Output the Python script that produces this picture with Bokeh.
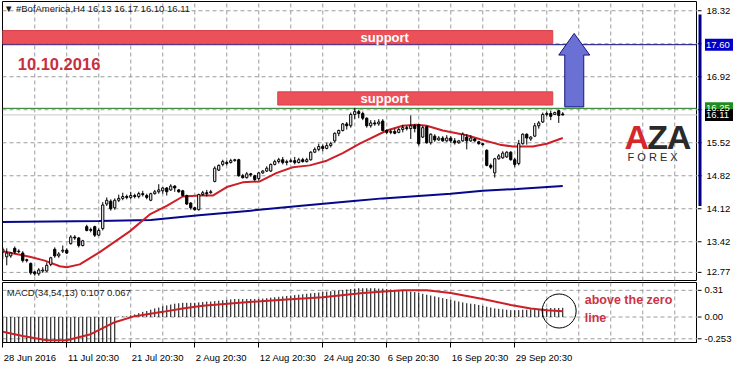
from bokeh.plotting import figure
from bokeh.layouts import column, row
from bokeh.models import Range1d, FixedTicker, Label
from bokeh.embed import file_html
from bokeh.resources import INLINE
from bokeh.core.properties import value

FONT = "Liberation Sans"

# ---------------- data ----------------
opens = [13.20,13.10,13.12,13.28,13.22,13.18,13.02,12.96,12.78,12.74,12.80,12.80,12.94,13.26,13.12,13.22,13.24,13.38,13.52,13.50,
         13.34,13.74,13.66,13.74,13.56,13.70,14.22,14.28,14.14,14.30,14.34,14.38,14.36,14.40,14.38,14.44,14.40,14.30,14.44,14.48,
         14.50,14.56,14.52,14.60,14.52,14.50,14.40,14.24,14.14,14.10,14.42,14.46,14.46,14.70,14.94,15.06,15.10,15.10,15.14,15.16,
         14.82,14.78,14.86,14.82,14.76,14.88,14.92,14.92,15.06,15.12,15.16,15.10,15.12,15.14,15.10,15.16,15.12,15.16,15.32,15.38,
         15.44,15.40,15.46,15.56,15.72,15.78,15.92,15.88,16.12,16.18,16.14,16.04,15.88,15.94,15.92,15.98,15.78,15.74,15.76,15.74,
         15.80,15.84,15.82,15.88,15.90,15.64,15.86,15.52,15.66,15.58,15.62,15.56,15.62,15.56,15.52,15.56,15.64,15.56,15.60,15.54,
         15.50,15.36,15.04,14.88,15.18,15.20,15.22,15.32,15.16,15.08,15.50,15.70,15.60,15.66,15.88,15.96,16.12,16.14,16.12,16.20,
         16.13]
highs = [13.30,13.28,13.20,13.32,13.26,13.22,13.06,12.98,12.80,12.86,12.88,12.98,13.10,13.30,13.20,13.34,13.28,13.56,13.56,13.52,
         13.46,13.78,13.72,13.76,13.70,14.26,14.36,14.32,14.34,14.42,14.46,14.42,14.48,14.44,14.48,14.50,14.44,14.46,14.52,14.64,
         14.58,14.58,14.64,14.62,14.54,14.52,14.42,14.26,14.16,14.44,14.50,14.52,14.52,15.02,15.06,15.16,15.14,15.18,15.18,15.18,
         14.86,14.90,14.88,14.84,14.90,14.94,15.02,15.08,15.16,15.20,15.22,15.16,15.18,15.22,15.20,15.20,15.20,15.34,15.42,15.50,
         15.48,15.52,15.54,15.74,15.80,15.94,15.96,16.16,16.26,16.22,16.18,16.06,16.00,16.00,16.02,16.02,15.80,15.80,15.82,15.84,
         15.90,15.88,16.10,15.92,15.92,15.88,15.88,15.72,15.70,15.66,15.66,15.68,15.66,15.62,15.58,15.74,15.70,15.68,15.62,15.56,
         15.52,15.38,15.08,15.20,15.28,15.34,15.34,15.34,15.20,15.58,15.72,15.72,15.66,15.94,15.98,16.16,16.18,16.20,16.18,16.22,
         16.17]
lows = [13.05,12.92,13.08,13.16,13.18,12.98,12.98,12.72,12.70,12.70,12.76,12.78,12.90,13.08,13.08,13.18,13.16,13.36,13.46,13.30,
        13.32,13.64,13.62,13.52,13.54,13.66,14.18,14.08,14.10,14.26,14.30,14.32,14.32,14.34,14.34,14.38,14.32,14.28,14.42,14.44,
        14.44,14.40,14.50,14.48,14.46,14.38,14.20,14.10,14.08,14.08,14.40,14.38,14.44,14.68,14.92,15.02,15.04,15.08,15.12,14.80,
        14.76,14.76,14.80,14.70,14.72,14.86,14.90,14.90,15.04,15.08,15.06,15.04,15.10,15.06,15.08,15.10,15.10,15.14,15.30,15.34,
        15.34,15.38,15.42,15.52,15.66,15.76,15.80,15.84,16.02,16.04,16.00,15.84,15.84,15.88,15.88,15.76,15.70,15.70,15.70,15.72,
        15.74,15.78,15.60,15.74,15.46,15.62,15.50,15.48,15.54,15.56,15.54,15.54,15.52,15.48,15.50,15.54,15.38,15.54,15.54,15.48,
        15.46,15.02,14.96,14.78,15.16,15.18,15.20,15.14,15.00,15.04,15.48,15.48,15.56,15.64,15.82,15.94,16.08,16.00,16.12,15.94,
        16.10]
closes = [13.26,13.18,13.18,13.20,13.21,13.02,13.04,12.76,12.74,12.82,12.82,12.92,13.08,13.12,13.16,13.24,13.18,13.52,13.50,13.34,
          13.44,13.66,13.68,13.56,13.66,14.20,14.30,14.12,14.30,14.34,14.38,14.36,14.40,14.38,14.44,14.42,14.36,14.44,14.48,14.52,
          14.56,14.48,14.60,14.56,14.48,14.40,14.22,14.14,14.10,14.42,14.46,14.44,14.48,14.98,15.04,15.12,15.08,15.14,15.16,14.82,
          14.78,14.86,14.84,14.74,14.88,14.92,14.98,15.06,15.12,15.16,15.10,15.12,15.14,15.10,15.16,15.12,15.16,15.32,15.38,15.44,
          15.40,15.46,15.50,15.72,15.78,15.92,15.88,16.12,16.18,16.14,16.04,15.88,15.94,15.92,15.96,15.78,15.74,15.76,15.72,15.80,
          15.84,15.82,15.88,15.82,15.50,15.84,15.52,15.70,15.58,15.62,15.56,15.62,15.56,15.52,15.56,15.70,15.56,15.62,15.56,15.50,
          15.48,15.04,15.00,15.18,15.24,15.30,15.32,15.16,15.06,15.50,15.70,15.62,15.64,15.88,15.94,16.12,16.14,16.08,16.16,16.10,
          16.11]

# moving averages, read at points along the lines (bar index, price)
red_ma_bar = [0, 6.75, 10.5, 14.25, 16, 19.25, 24.25, 31.75, 36.75, 41, 45, 49.25, 52.5, 56, 60, 64.25, 68.5, 72.5, 76.75,
              81, 85, 89.25, 96, 100, 103.5, 106, 110, 116, 120, 124.25, 127.5, 132.5, 136, 140]
red_ma_val = [13.22, 13.10, 13.02, 12.90, 12.88, 12.94, 13.20, 13.64, 14.00, 14.18, 14.38, 14.40, 14.40, 14.58, 14.68, 14.70,
              14.88, 15.00, 15.04, 15.14, 15.30, 15.50, 15.78, 15.88, 15.90, 15.88, 15.78, 15.68, 15.58, 15.48, 15.44, 15.44,
              15.50, 15.62]
blue_ma_bar = [0, 24, 37, 49, 62, 74, 87, 95, 112, 120, 128.5, 140]
blue_ma_val = [13.84, 13.86, 13.88, 13.98, 14.08, 14.18, 14.28, 14.34, 14.44, 14.50, 14.54, 14.60]

# MACD histogram, one value per bar
macd_hist = [-0.40,-0.40,-0.41,-0.41,-0.41,-0.42,-0.42,-0.43,-0.44,-0.44,
             -0.44,-0.43,-0.42,-0.41,-0.41,-0.40,-0.40,-0.39,-0.38,-0.38,
             -0.37,-0.36,-0.35,-0.35,-0.34,-0.33,-0.32,-0.32,-0.31,
             0.004,0.006,0.008,
             0.02,0.03,0.045,0.06,0.07,0.085,0.10,0.11,
             0.125,0.135,0.145,0.155,0.16,0.165,0.165,0.165,0.165,0.17,
             0.175,0.18,0.18,0.185,0.19,0.195,0.20,0.205,0.21,0.21,
             0.21,0.21,0.21,0.21,0.21,0.215,0.22,0.225,0.23,0.235,
             0.24,0.245,0.25,0.255,0.26,0.265,0.27,0.275,0.28,0.285,
             0.29,0.295,0.30,0.305,0.31,0.315,0.32,0.325,0.33,0.335,
             0.335,0.335,0.335,0.335,0.33,0.33,0.325,0.32,0.315,0.31,
             0.305,0.30,0.295,0.29,0.28,0.27,0.26,0.25,0.24,0.23,
             0.22,0.21,0.20,0.19,0.18,0.17,0.16,0.155,0.15,0.14,
             0.13,0.12,0.11,0.10,0.095,0.09,0.085,0.08,0.08,0.08,
             0.085,0.085,0.09,0.09,0.095,0.10,0.10,0.105,0.105,0.105,0.107]
signal_bar = [0, 5, 11, 16, 22, 28, 33, 40, 45, 50, 60, 70, 80, 90, 100, 106, 112, 120, 127, 132, 136, 140]
signal_val = [-0.17, -0.22, -0.27, -0.27, -0.20, -0.06, 0.01, 0.06, 0.10, 0.13, 0.17, 0.20, 0.23, 0.28, 0.31, 0.31,
              0.28, 0.21, 0.14, 0.10, 0.08, 0.067]

date_labels = ["28 Jun 2016", "11 Jul 20:30", "21 Jul 20:30", "2 Aug 20:30", "12 Aug 20:30",
               "24 Aug 20:30", "6 Sep 20:30", "16 Sep 20:30", "29 Sep 20:30"]
date_bars = [0, 16, 32, 48, 64, 80, 96, 112, 128]
grid_bars = [8, 16, 24, 32, 40, 48, 56, 64, 72, 80, 88, 96, 104, 112, 120, 128, 136, 144, 152, 160, 168]
price_ticks = [12.77, 13.42, 14.12, 14.82, 15.52, 16.22, 16.92, 17.62, 18.32]
price_tick_labels = ["12.77", "13.42", "14.12", "14.82", "15.52", "", "16.92", "", "18.32"]
macd_ticks = [-0.253, 0.0, 0.31]
macd_tick_labels = ["-0.253", "0.00", "0.31"]

support_levels = [17.60, 16.25]
bid_level = 16.11
marker_levels = [17.60, 16.25, 16.11]
marker_colors = ["#0000c8", "#1e8c1e", "black"]
range_bar = [14.18, 18.24]
# annotation shapes (bar index, price)
support_boxes = dict(left=[0, 68.75], right=[137.5, 137.5], bottom=[17.62, 16.32], top=[17.90, 16.60])
arrow_x = [140.5, 145.25, 145.25, 146.75, 142.85, 139.0, 140.5]
arrow_y = [16.28, 16.28, 17.38, 17.38, 17.84, 17.38, 17.38]

# ---------------- layout ----------------
W = 739
BL = 2
SW = 42                      # width of the price-scale strip
FRAME_W = W - BL - SW        # 695 px
ppb = 4.0                    # 4 px per bar, as in the terminal
X0 = -0.0625
XEND = X0 + FRAME_W / ppb
XR = Range1d(X0, XEND)
H_MAIN = 281
H_MACD = 84
FH_MAIN = H_MAIN - 2
FH_MACD = H_MACD - 21

# vertical scales chosen so the dashed grid lines fall close to whole pixels
PX_PER_UNIT = 33 / 0.70
P_HI = 18.32 + 9.25 / PX_PER_UNIT
P_LO = P_HI - FH_MAIN / PX_PER_UNIT
M_PX_PER_UNIT = 28 / 0.31
M_HI = 36.25 / M_PX_PER_UNIT
M_LO = M_HI - FH_MACD / M_PX_PER_UNIT

LBL = "9.5px"
GRID_COLOR = "#9c9c9c"


def style_frame(f):
    f.outline_line_color = "black"
    f.outline_line_width = 1
    f.background_fill_color = "white"
    f.border_fill_color = "white"
    f.grid.visible = False


def grid_lines(f, ylo, yhi, yticks):
    f.segment(x0=grid_bars, y0=[ylo] * len(grid_bars), x1=grid_bars, y1=[yhi] * len(grid_bars),
              line_color=GRID_COLOR, line_width=1, line_dash="4 3")
    f.segment(x0=[X0] * len(yticks), y0=yticks, x1=[XEND] * len(yticks), y1=yticks,
              line_color=GRID_COLOR, line_width=1, line_dash="4 3")


p = figure(width=W - SW, height=H_MAIN, x_range=XR, y_range=Range1d(P_LO, P_HI),
           x_axis_location=None, y_axis_location=None,
           output_backend="svg", toolbar_location=None,
           min_border_left=BL, min_border_right=0, min_border_top=1, min_border_bottom=1)
style_frame(p)
grid_lines(p, P_LO, P_HI, price_ticks)

# horizontal level lines
p.line(x=[X0, XEND], y=[bid_level, bid_level], line_color="#c8c8c8", line_width=1)
p.line(x=[X0, XEND], y=[support_levels[1]] * 2, line_color="#1d7a1d", line_width=1)
p.line(x=[X0, XEND], y=[support_levels[0]] * 2, line_color="#0b0b7a", line_width=1)

# support boxes
p.quad(left=[X0, support_boxes["left"][1]], right=support_boxes["right"], bottom=support_boxes["bottom"],
       top=support_boxes["top"], fill_color="#ec5058", line_color="#d8404a", line_width=1)
for b, t in zip(support_boxes["bottom"], support_boxes["top"]):
    p.add_layout(Label(x=95.5, y=(b + t) / 2, text="support", text_align="center", text_baseline="middle",
                       text_font=FONT, text_font_size="13px", text_font_style="bold", text_color="white"))

# moving averages
p.line(blue_ma_bar, blue_ma_val, line_color="#07078c", line_width=2)
p.line(red_ma_bar, red_ma_val, line_color="#cc1f26", line_width=2)

# candles
idx = list(range(len(closes)))
p.segment(x0=idx, y0=lows, x1=idx, y1=highs, line_color="black", line_width=1)
tops = [max(o, c) for o, c in zip(opens, closes)]
bots = [min(o, c) for o, c in zip(opens, closes)]
fills = ["white" if c >= o else "black" for o, c in zip(opens, closes)]
p.vbar(x=idx, width=0.55, top=tops, bottom=bots, fill_color=fills, line_color="black", line_width=1)

# arrow
p.patch(arrow_x, arrow_y, fill_color="#6a70d4", line_color="#15157a", line_width=1)

# texts
p.add_layout(Label(x=0.3, y=18.37, text="\u25bc #BofAmerica,H4  16.13 16.17 16.10 16.11", text_baseline="middle",
                   text_font=FONT, text_font_size="9.5px", text_color="#1a1a1a"))
p.add_layout(Label(x=3.75, y=17.20, text="10.10.2016", text_baseline="middle",
                   text_font=FONT, text_font_size="16.5px", text_font_style="bold", text_color="#c8303f"))
# logo
for lx, letter, col in [(158.5, "A", "#d4282c"), (163.7, "Z", "#2a2a2a"), (169.1, "A", "#2a2a2a")]:
    p.add_layout(Label(x=lx, y=15.64, text=letter, text_align="center", text_baseline="middle",
                       text_font=FONT, text_font_size="34px", text_font_style="bold", text_color=col))
p.add_layout(Label(x=164.0, y=15.21, text="F  O  R  E  X", text_align="center", text_baseline="middle",
                   text_font=FONT, text_font_size="11px", text_color="#2a2a2a"))

# ---------------- price scale strip (right of the main panel) ----------------
pr = figure(width=SW, height=H_MAIN, x_range=Range1d(0, SW), y_range=p.y_range,
            x_axis_location=None, y_axis_location=None, output_backend="svg", toolbar_location=None,
            min_border_left=0, min_border_right=0, min_border_top=1, min_border_bottom=1,
            outline_line_color=None, background_fill_color="white", border_fill_color="white")
pr.grid.visible = False
pr.segment(x0=[0] * len(price_ticks), y0=price_ticks, x1=[4] * len(price_ticks), y1=price_ticks,
           line_color="black", line_width=1)
pr.text(x=[9] * len(price_ticks), y=price_ticks, text=price_tick_labels, text_baseline="middle",
        text_font=value(FONT), text_font_size=LBL, text_color="black")
pr.quad(left=[1], right=[4], bottom=[range_bar[0]], top=[range_bar[1]], fill_color="#00008c", line_color=None)
pr.rect(x=[21.5] * 3, y=marker_levels, width=28, height=12, width_units="screen", height_units="screen",
        fill_color=marker_colors, line_color=None)
pr.text(x=[8.5] * 3, y=marker_levels, text=[f"{v:.2f}" for v in marker_levels], text_baseline="middle",
        text_font=value(FONT), text_font_size=LBL, text_color="white")

# ---------------- MACD panel ----------------
q = figure(width=W - SW, height=H_MACD, x_range=XR, y_range=Range1d(M_LO, M_HI),
           y_axis_location=None, x_axis_location="below",
           output_backend="svg", toolbar_location=None,
           min_border_left=BL, min_border_right=0, min_border_top=1, min_border_bottom=20)
style_frame(q)
grid_lines(q, M_LO, M_HI, macd_ticks)

# date labels: left-aligned at their tick like the terminal; centres placed right of the tick marks
cw = {ch: 0.556 for ch in "0123456789"}
cw.update({" ": 0.278, ":": 0.278, "J": 0.5, "u": 0.556, "n": 0.556, "l": 0.222, "A": 0.667, "g": 0.556,
           "S": 0.667, "e": 0.556, "p": 0.556})
centres = []
for b, s in zip(date_bars, date_labels):
    wpx = sum(cw.get(ch, 0.55) for ch in s) * 9.5
    centres.append(round(b + (wpx / 2 + 1) / ppb, 4))
xa = q.xaxis[0]
xa.ticker = FixedTicker(ticks=centres, minor_ticks=date_bars)
xa.major_label_overrides = {c: s for c, s in zip(centres, date_labels)}
xa.major_tick_out = 0
xa.major_tick_in = 0
xa.minor_tick_out = 5
xa.minor_tick_in = 0
xa.minor_tick_line_color = "black"
xa.major_label_standoff = 4
xa.major_label_text_font = FONT
xa.major_label_text_font_size = LBL
xa.major_label_text_color = "black"

q.segment(x0=idx, y0=[0] * len(macd_hist), x1=idx, y1=macd_hist, line_color="black", line_width=1)
q.line(signal_bar, signal_val, line_color="#cc1f26", line_width=2)
q.scatter(x=[139.1], y=[0.07], size=34, marker="circle", fill_color=None, line_color="black", line_width=1)
q.add_layout(Label(x=1, y=0.289, text="MACD(34,54,13) 0.107 0.067", text_baseline="middle",
                   text_font=FONT, text_font_size="9.5px", text_color="#1a1a1a"))
q.add_layout(Label(x=145.5, y=0.203, text="above the zero", text_baseline="middle",
                   text_font=FONT, text_font_size="12.5px", text_font_style="bold", text_color="#cc3344"))
q.add_layout(Label(x=145.5, y=-0.01, text="line", text_baseline="middle",
                   text_font=FONT, text_font_size="12.5px", text_font_style="bold", text_color="#cc3344"))

qr = figure(width=SW, height=H_MACD, x_range=Range1d(0, SW), y_range=q.y_range,
            x_axis_location=None, y_axis_location=None, output_backend="svg", toolbar_location=None,
            min_border_left=0, min_border_right=0, min_border_top=1, min_border_bottom=20,
            outline_line_color=None, background_fill_color="white", border_fill_color="white")
qr.grid.visible = False
qr.segment(x0=[0] * len(macd_ticks), y0=macd_ticks, x1=[4] * len(macd_ticks), y1=macd_ticks,
           line_color="black", line_width=1)
qr.text(x=[7] * len(macd_ticks), y=macd_ticks, text=macd_tick_labels, text_baseline="middle",
        text_font=value(FONT), text_font_size=LBL, text_color="black")

layout = column(row(p, pr), row(q, qr))
open("out.html", "w").write(file_html(layout, INLINE))
